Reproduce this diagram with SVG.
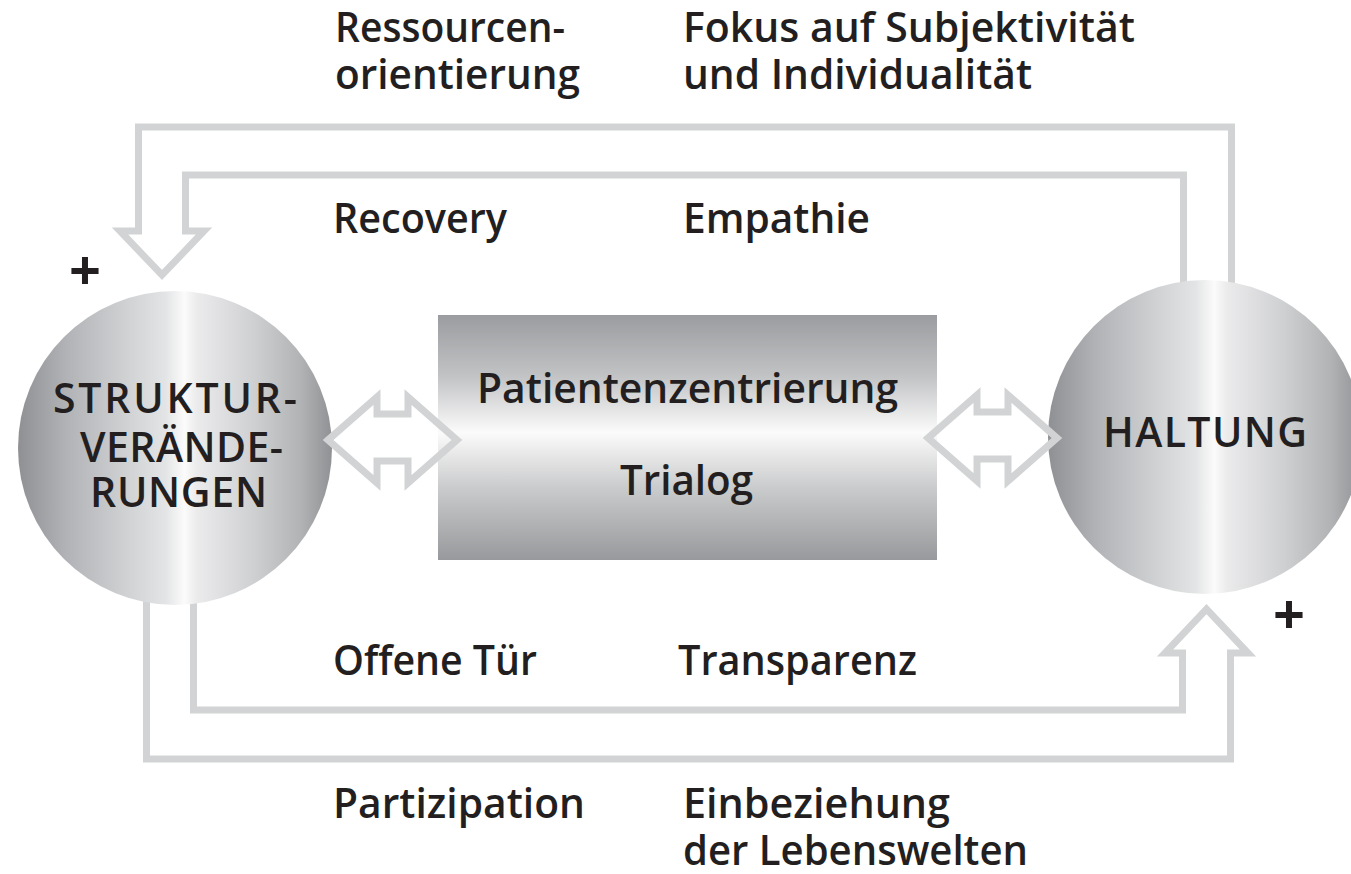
<svg xmlns="http://www.w3.org/2000/svg" width="1351" height="874" viewBox="0 0 1351 874">
<defs>
<linearGradient id="gCircle" x1="0" y1="0" x2="1" y2="0">
<stop offset="0" stop-color="#8f9093"/>
<stop offset="0.15" stop-color="#b1b2b5"/>
<stop offset="0.35" stop-color="#d1d2d4"/>
<stop offset="0.47" stop-color="#e3e4e5"/>
<stop offset="0.53" stop-color="#fbfbfb"/>
<stop offset="0.57" stop-color="#ebebec"/>
<stop offset="0.75" stop-color="#cfd0d2"/>
<stop offset="0.9" stop-color="#b2b3b5"/>
<stop offset="1" stop-color="#909194"/>
</linearGradient>
<linearGradient id="gRect" x1="0" y1="0" x2="0" y2="1">
<stop offset="0" stop-color="#9b9c9f"/>
<stop offset="0.25" stop-color="#c2c3c5"/>
<stop offset="0.48" stop-color="#fbfbfb"/>
<stop offset="0.7" stop-color="#cbcccd"/>
<stop offset="1" stop-color="#98999c"/>
</linearGradient>
<style>
.conn{fill:none;stroke:#d1d3d4;stroke-width:7;stroke-linejoin:miter;stroke-miterlimit:10}
.lbl{font-family:"Open Sans","Noto Sans","Liberation Sans",sans-serif;font-weight:600;font-size:41px;fill:#231f20}
.cap{font-family:"Open Sans","Noto Sans","Liberation Sans",sans-serif;font-weight:600;font-size:41px;fill:#231f20}
.plus{font-family:"Open Sans","Liberation Sans",sans-serif;font-weight:700;font-size:56px;fill:#231f20;text-anchor:middle}
</style>
</defs>
<rect width="1351" height="874" fill="#ffffff"/>

<g id="connectors">
<path class="conn" d="M1231.5,300 V127 H138.5 V231 H120 L162,275 L204,231 H185.5 V175 H1183.5 V300"/>
<path class="conn" d="M146.5,580 V759 H1230.5 V653 H1248 L1206.5,609 L1165,653 H1182.5 V710 H193.5 V580"/>
</g>

<g id="node-struktur">
<circle cx="175" cy="448" r="157" fill="url(#gCircle)"/>
<text class="cap" x="53" y="413" textLength="244" lengthAdjust="spacing">STRUKTUR-</text>
<text class="cap" x="80" y="462" textLength="203" lengthAdjust="spacing">VERÄNDE-</text>
<text class="cap" x="90" y="507" textLength="177" lengthAdjust="spacing">RUNGEN</text>
</g>

<g id="node-haltung">
<circle cx="1205" cy="437" r="157" fill="url(#gCircle)"/>
<text class="cap" x="1103" y="447" textLength="204" lengthAdjust="spacing">HALTUNG</text>
</g>

<g id="node-center">
<rect x="438" y="315" width="499" height="245" fill="url(#gRect)"/>
<text class="lbl" x="477" y="403" textLength="421" lengthAdjust="spacingAndGlyphs">Patientenzentrierung</text>
<text class="lbl" x="620" y="495" textLength="133" lengthAdjust="spacingAndGlyphs">Trialog</text>
</g>

<g id="double-arrows">
<path class="conn" d="M328,440 L377,397 V414 H408 V397 L457,440 L408,483 V461 H377 V483 Z"/>
<path class="conn" d="M928,438 L977,395 V412 H1008 V395 L1057,438 L1008,481 V459 H977 V481 Z"/>
</g>

<g id="labels">
<text class="lbl" x="335" y="42" textLength="230" lengthAdjust="spacingAndGlyphs">Ressourcen-</text>
<text class="lbl" x="335" y="89" textLength="245" lengthAdjust="spacingAndGlyphs">orientierung</text>
<text class="lbl" x="683" y="42" textLength="452" lengthAdjust="spacingAndGlyphs">Fokus auf Subjektivität</text>
<text class="lbl" x="683" y="89" textLength="349" lengthAdjust="spacingAndGlyphs">und Individualität</text>
<text class="lbl" x="333" y="233" textLength="174" lengthAdjust="spacingAndGlyphs">Recovery</text>
<text class="lbl" x="683" y="233" textLength="187" lengthAdjust="spacingAndGlyphs">Empathie</text>
<text class="lbl" x="333" y="675" textLength="204" lengthAdjust="spacingAndGlyphs">Offene Tür</text>
<text class="lbl" x="678" y="675" textLength="239" lengthAdjust="spacingAndGlyphs">Transparenz</text>
<text class="lbl" x="333" y="818" textLength="252" lengthAdjust="spacingAndGlyphs">Partizipation</text>
<text class="lbl" x="683" y="818" textLength="267" lengthAdjust="spacingAndGlyphs">Einbeziehung</text>
<text class="lbl" x="683" y="865" textLength="345" lengthAdjust="spacingAndGlyphs">der Lebenswelten</text>
<text class="plus" x="85" y="290">+</text>
<text class="plus" x="1289" y="634">+</text>
</g>
</svg>
